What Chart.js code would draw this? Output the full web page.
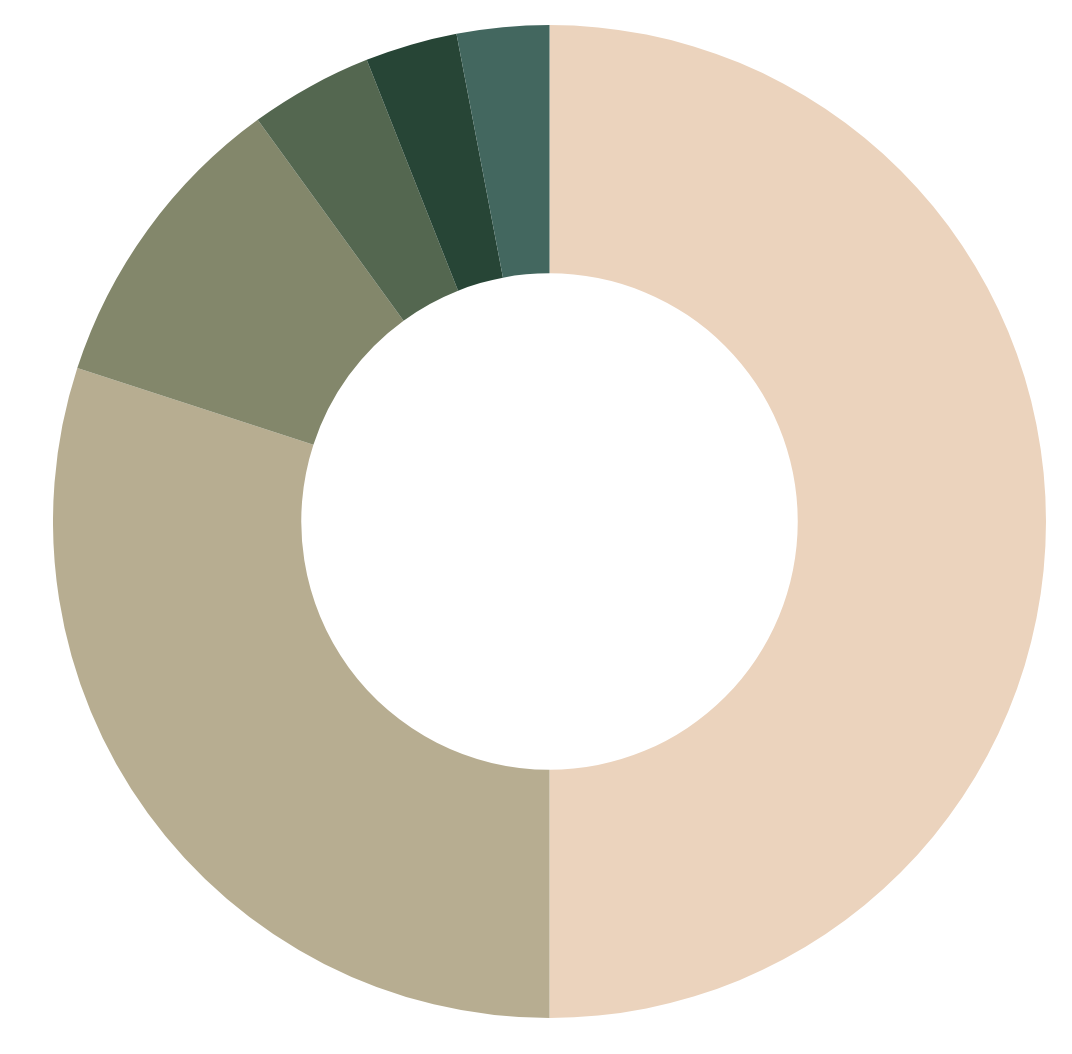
<!DOCTYPE html>
<html>
<head>
<meta charset="utf-8">
<script src="https://cdn.jsdelivr.net/npm/chart.js@4"></script>
<style>
  html, body { margin: 0; padding: 0; background: #fff; }
  #wrap { position: absolute; left: 53px; top: 25px; width: 993px; height: 993px; }
</style>
</head>
<body>
<div id="wrap"><canvas id="donut"></canvas></div>
<script>
const labels = ['A', 'B', 'C', 'D', 'E', 'F'];
const values = [50, 30, 10, 4, 3, 3];
const colors = ['#EBD3BD', '#B7AD91', '#83876B', '#546750', '#274536', '#43675F'];

new Chart(document.getElementById('donut').getContext('2d'), {
    type: 'doughnut',
    data: {
        labels: labels,
        datasets: [{
            data: values,
            backgroundColor: colors,
            borderWidth: 0
        }]
    },
    options: {
        responsive: true,
        maintainAspectRatio: false,
        animation: false,
        cutout: '50%',
        layout: { padding: 0 },
        plugins: {
            legend: { display: false },
            tooltip: { enabled: false }
        }
    }
});
</script>
</body>
</html>
